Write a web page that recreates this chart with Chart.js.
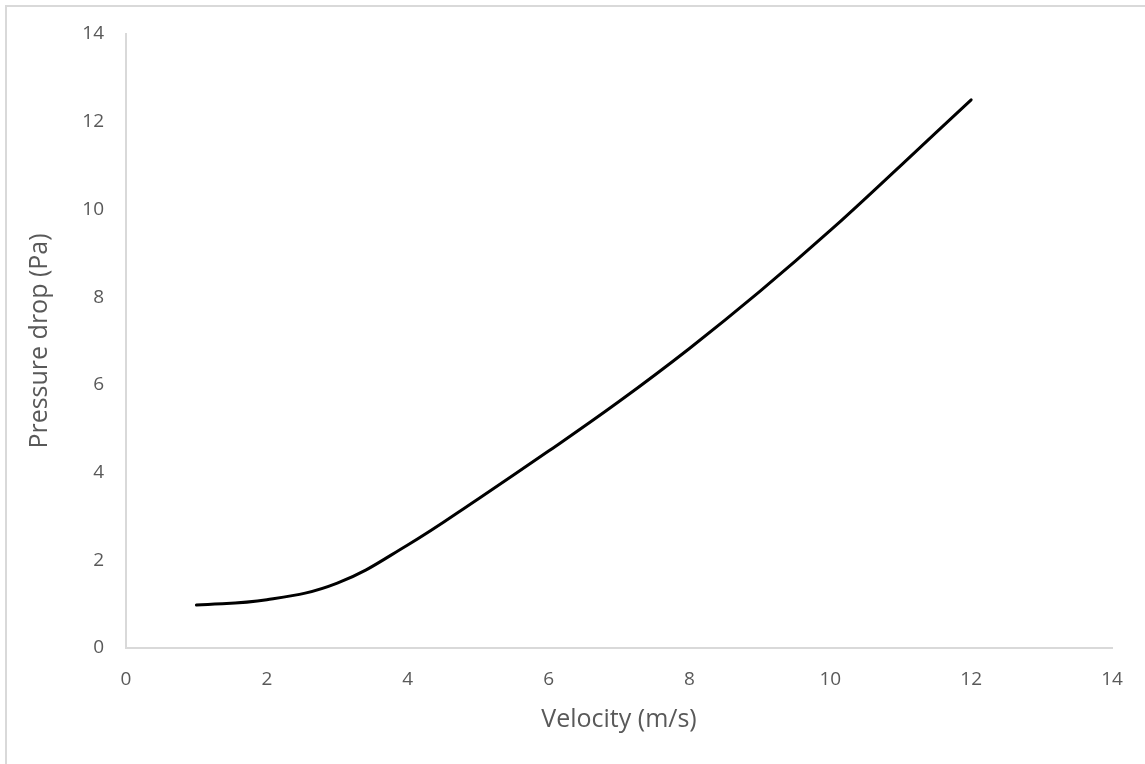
<!DOCTYPE html>
<html>
<head>
<meta charset="utf-8">
<title>Pressure drop vs velocity</title>
<script src="https://cdn.jsdelivr.net/npm/chart.js@4/dist/chart.umd.min.js"></script>
<style>
  html, body { margin: 0; padding: 0; background: #fff; overflow: hidden; }
  #wrap { position: absolute; left: 0; top: 0; width: 1145px; height: 764px; }
  #frame { position: absolute; left: 5px; top: 5px; width: 1200px; height: 800px;
           border: 2px solid #d9d9d9; box-sizing: border-box; pointer-events: none; }
  canvas { position: absolute; left: 0; top: 0; }
</style>
</head>
<body>
<div id="wrap">
  <div id="frame"></div>
  <canvas id="chart" width="1145" height="764"></canvas>
</div>
<script>
// Measured velocity (m/s) and pressure drop (Pa)
const velocity = [1, 2, 3, 4, 5, 6, 7, 8, 9, 10, 11, 12];
const pressureDrop = [0.98, 1.10, 1.48, 2.35, 3.40, 4.49, 5.62, 6.83, 8.13, 9.52, 11.00, 12.50];

const xTitle = 'Velocity (m/s)';
const yTitle = 'Pressure drop (Pa)';

const points = velocity.map((v, i) => ({ x: v, y: pressureDrop[i] }));

const fontFamily = '"Open Sans", Lato, sans-serif';
const textColor = '#595959';
const axisColor = '#d9d9d9';

new Chart(document.getElementById('chart'), {
  type: 'scatter',
  data: {
    datasets: [{
      data: points,
      showLine: true,
      borderColor: '#000000',
      borderWidth: 3,
      pointRadius: 0,
      pointHoverRadius: 0,
      tension: 0.4,
      fill: false,
      borderCapStyle: 'round'
    }]
  },
  options: {
    responsive: false,
    animation: false,
    events: [],
    layout: { padding: { left: 0, top: 34, right: 33, bottom: 0 } },
    plugins: { legend: { display: false }, tooltip: { enabled: false } },
    scales: {
      x: {
        type: 'linear',
        min: 0, max: 14,
        ticks: { stepSize: 2, color: textColor, font: { family: fontFamily, size: 19 }, padding: 20 },
        grid: { display: false, drawTicks: false },
        border: { display: true, color: axisColor, width: 2 },
        title: { display: true, text: xTitle, color: textColor, font: { family: fontFamily, size: 25 }, padding: { top: 0, bottom: 29 } },
        afterFit: (s) => { s.height = 116; }
      },
      y: {
        type: 'linear',
        min: 0, max: 14,
        ticks: { stepSize: 2, color: textColor, font: { family: fontFamily, size: 19 }, padding: 22 },
        grid: { display: false, drawTicks: false },
        border: { display: true, color: axisColor, width: 2 },
        title: { display: true, text: yTitle, color: textColor, font: { family: fontFamily, size: 25 }, padding: { top: 25, bottom: 0 } },
        afterFit: (s) => { s.width = 126; }
      }
    }
  }
});
</script>
</body>
</html>
